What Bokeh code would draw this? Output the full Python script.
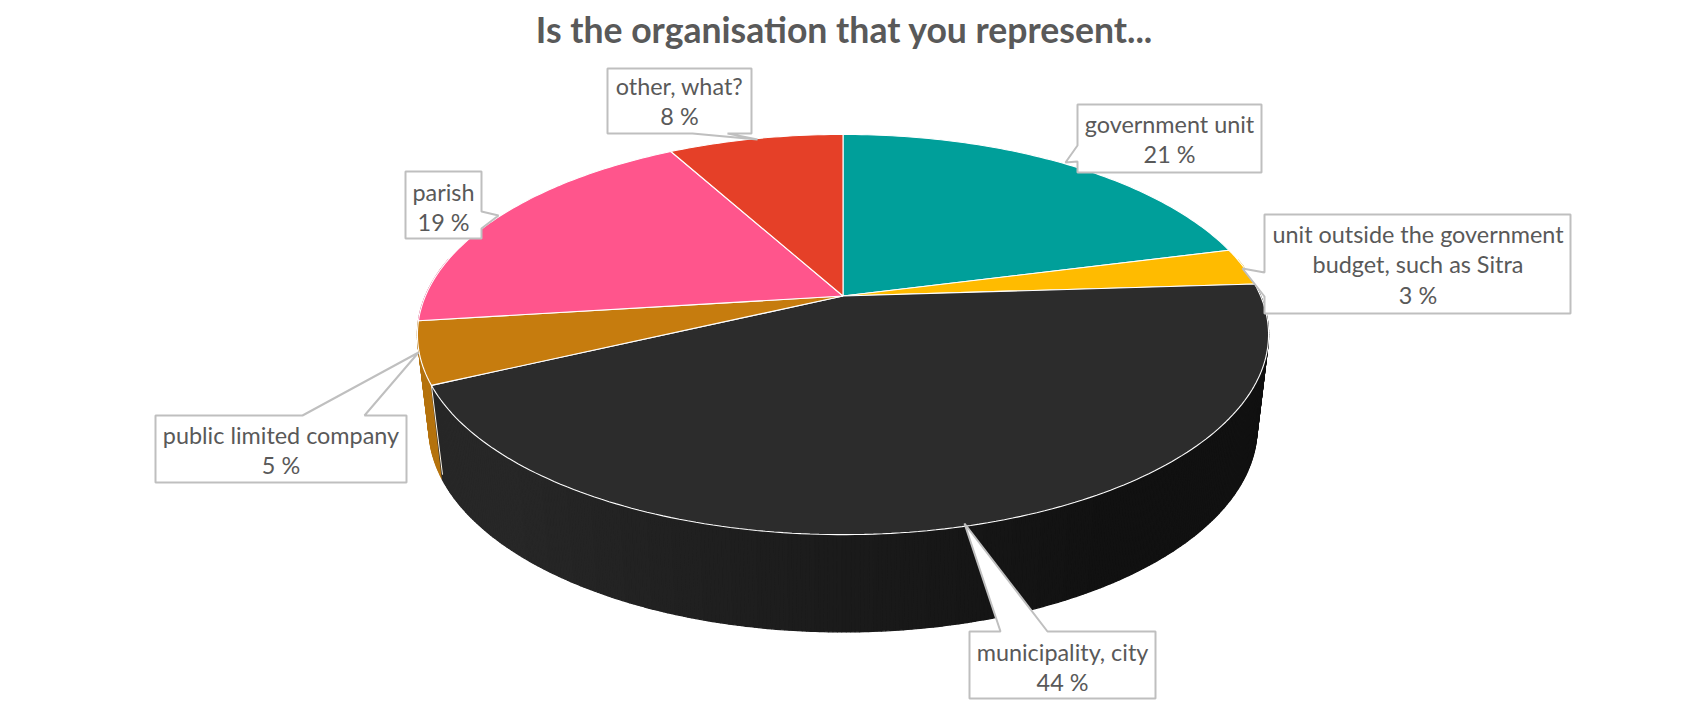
import math
from bokeh.plotting import figure
from bokeh.models import Range1d
from bokeh.core.properties import value
from bokeh.embed import file_html
from bokeh.resources import INLINE

title_text = "Is the organisation that you represent..."
categories = ["government unit", "unit outside the government budget, such as Sitra",
              "municipality, city", "public limited company", "parish", "other, what?"]
shares = [21, 3, 44, 5, 19, 8]
top_colors = ["#009F9A", "#FFBB00", "#2C2C2C", "#C67C0E", "#FF558C", "#E54028"]
side_colors = ["#007C78", "#D89E00", None, "#B5730E", "#D9477A", "#C23620"]

# label wrapping per slice
label_lines = [["government unit"],
               ["unit outside the government", "budget, such as Sitra"],
               ["municipality, city"],
               ["public limited company"],
               ["parish"],
               ["other, what?"]]

# pie projection (layout)
CX, CY = 842.5, 295.5
R, A, K = 417.6, 192.7, 0.1925
SX, SY, DEPTH = 0.973, 1.02, 92.5


def rim(frac):
    t = 2 * math.pi * frac
    u, v = math.sin(t), -math.cos(t)
    d = 1 - K * v
    return R * u / d, A * v / d, u, v


def top_pt(frac):
    x, y, _, _ = rim(frac)
    return CX + x, CY + y


def bottom_pt(frac):
    x, y, _, _ = rim(frac)
    return CX + x * SX, CY + y * SY + DEPTH


p = figure(width=1684, height=704, x_range=Range1d(0, 1684), y_range=Range1d(704, 0),
           output_backend="svg", toolbar_location=None, min_border=0,
           background_fill_color="white", border_fill_color="white", outline_line_color=None)
p.axis.visible = False
p.grid.visible = False

total = sum(shares)
starts = [sum(shares[:i]) / total for i in range(len(shares))]
ends = [sum(shares[:i + 1]) / total for i in range(len(shares))]

# side wall, painted back to front
quads = []
for s, e, c in zip(starts, ends, side_colors):
    n = max(2, int((e - s) * 720))
    for i in range(n):
        f0 = s + (e - s) * i / n
        f1 = s + (e - s) * (i + 1) / n
        _, _, u, v = rim((f0 + f1) / 2)
        if v < -0.2:
            continue
        if c is None:
            g = int(max(0x11, min(0x27, 0x1B - 0x12 * u)))
            col = "#%02x%02x%02x" % (g, g, g)
        else:
            col = c
        x0, y0 = top_pt(f0)
        x1, y1 = top_pt(f1)
        x2, y2 = bottom_pt(f1)
        x3, y3 = bottom_pt(f0)
        quads.append((v, [x0, x1, x2, x3], [y0, y1, y2, y3], col))
quads.sort(key=lambda q: q[0])
p.patches([q[1] for q in quads], [q[2] for q in quads], fill_color=[q[3] for q in quads],
          line_color=[q[3] for q in quads], line_width=1.3)

# seam between the two visible side walls
seam = ends[2]
p.line([top_pt(seam)[0], bottom_pt(seam)[0]], [top_pt(seam)[1], bottom_pt(seam)[1] - 5],
       line_color="#FFF6E6", line_width=1)

# top faces
xs, ys = [], []
for s, e in zip(starts, ends):
    n = max(2, int((e - s) * 360))
    pts = [top_pt(s + (e - s) * i / n) for i in range(n + 1)]
    xs.append([CX] + [q[0] for q in pts])
    ys.append([CY] + [q[1] for q in pts])
p.patches(xs, ys, fill_color=top_colors, line_color="white", line_width=1.1)

# call-outs: box (l, t, r, b), tip, pointer base a, pointer base b, text centre, first-line y
callouts = [
    ((1077, 104, 1261, 172), (1065, 162), (1077, 145), (1077, 161), 1169, 123),
    ((1264, 214, 1570, 313), (1242, 268), (1264, 272), (1264, 296), 1417.5, 233),
    ((969, 631, 1155, 698), (964, 523), (1000, 631), (1047, 631), 1062, 651),
    ((155, 415, 406, 482), (418, 352), (302, 415), (364, 415), 280.5, 434),
    ((405, 171, 481, 238), (498, 215), (481, 211), (481, 228), 443, 191),
    ((607, 68, 751, 133), (757, 139), (692, 133), (727, 133), 679, 85),
]
BORDER = "#BFBFBF"
LINE_GAP = 30.5
for i, (box, tip, b1, b2, tx, ty) in enumerate(callouts):
    l, t, r, bt = box
    if b1[1] == t and b2[1] == t:
        px = [l, b1[0], tip[0], b2[0], r, r, l]
        py = [t, t, tip[1], t, t, bt, bt]
    elif b1[1] == bt and b2[1] == bt:
        px = [l, r, r, b2[0], tip[0], b1[0], l]
        py = [t, t, bt, bt, tip[1], bt, bt]
    elif b1[0] == l:
        px = [l, r, r, l, l, tip[0], l]
        py = [t, t, bt, bt, b2[1], tip[1], b1[1]]
    else:
        px = [l, r, r, tip[0], r, r, l]
        py = [t, t, b1[1], tip[1], b2[1], bt, bt]
    p.patch(px, py, fill_color="white", line_color=BORDER, line_width=2)
    lines = label_lines[i] + ["%d %%" % shares[i]]
    p.text([tx] * len(lines), [ty + LINE_GAP * j for j in range(len(lines))], text=lines,
           text_font=value("Lato"), text_font_size="23.4px", text_color="#595959",
           text_align="center", text_baseline="middle")

p.text([844], [29], text=[title_text], text_font=value("Lato"), text_font_style="bold",
       text_font_size="35.6px", text_color="#595959", text_align="center", text_baseline="middle")

open("out.html", "w").write(file_html(p, INLINE))
